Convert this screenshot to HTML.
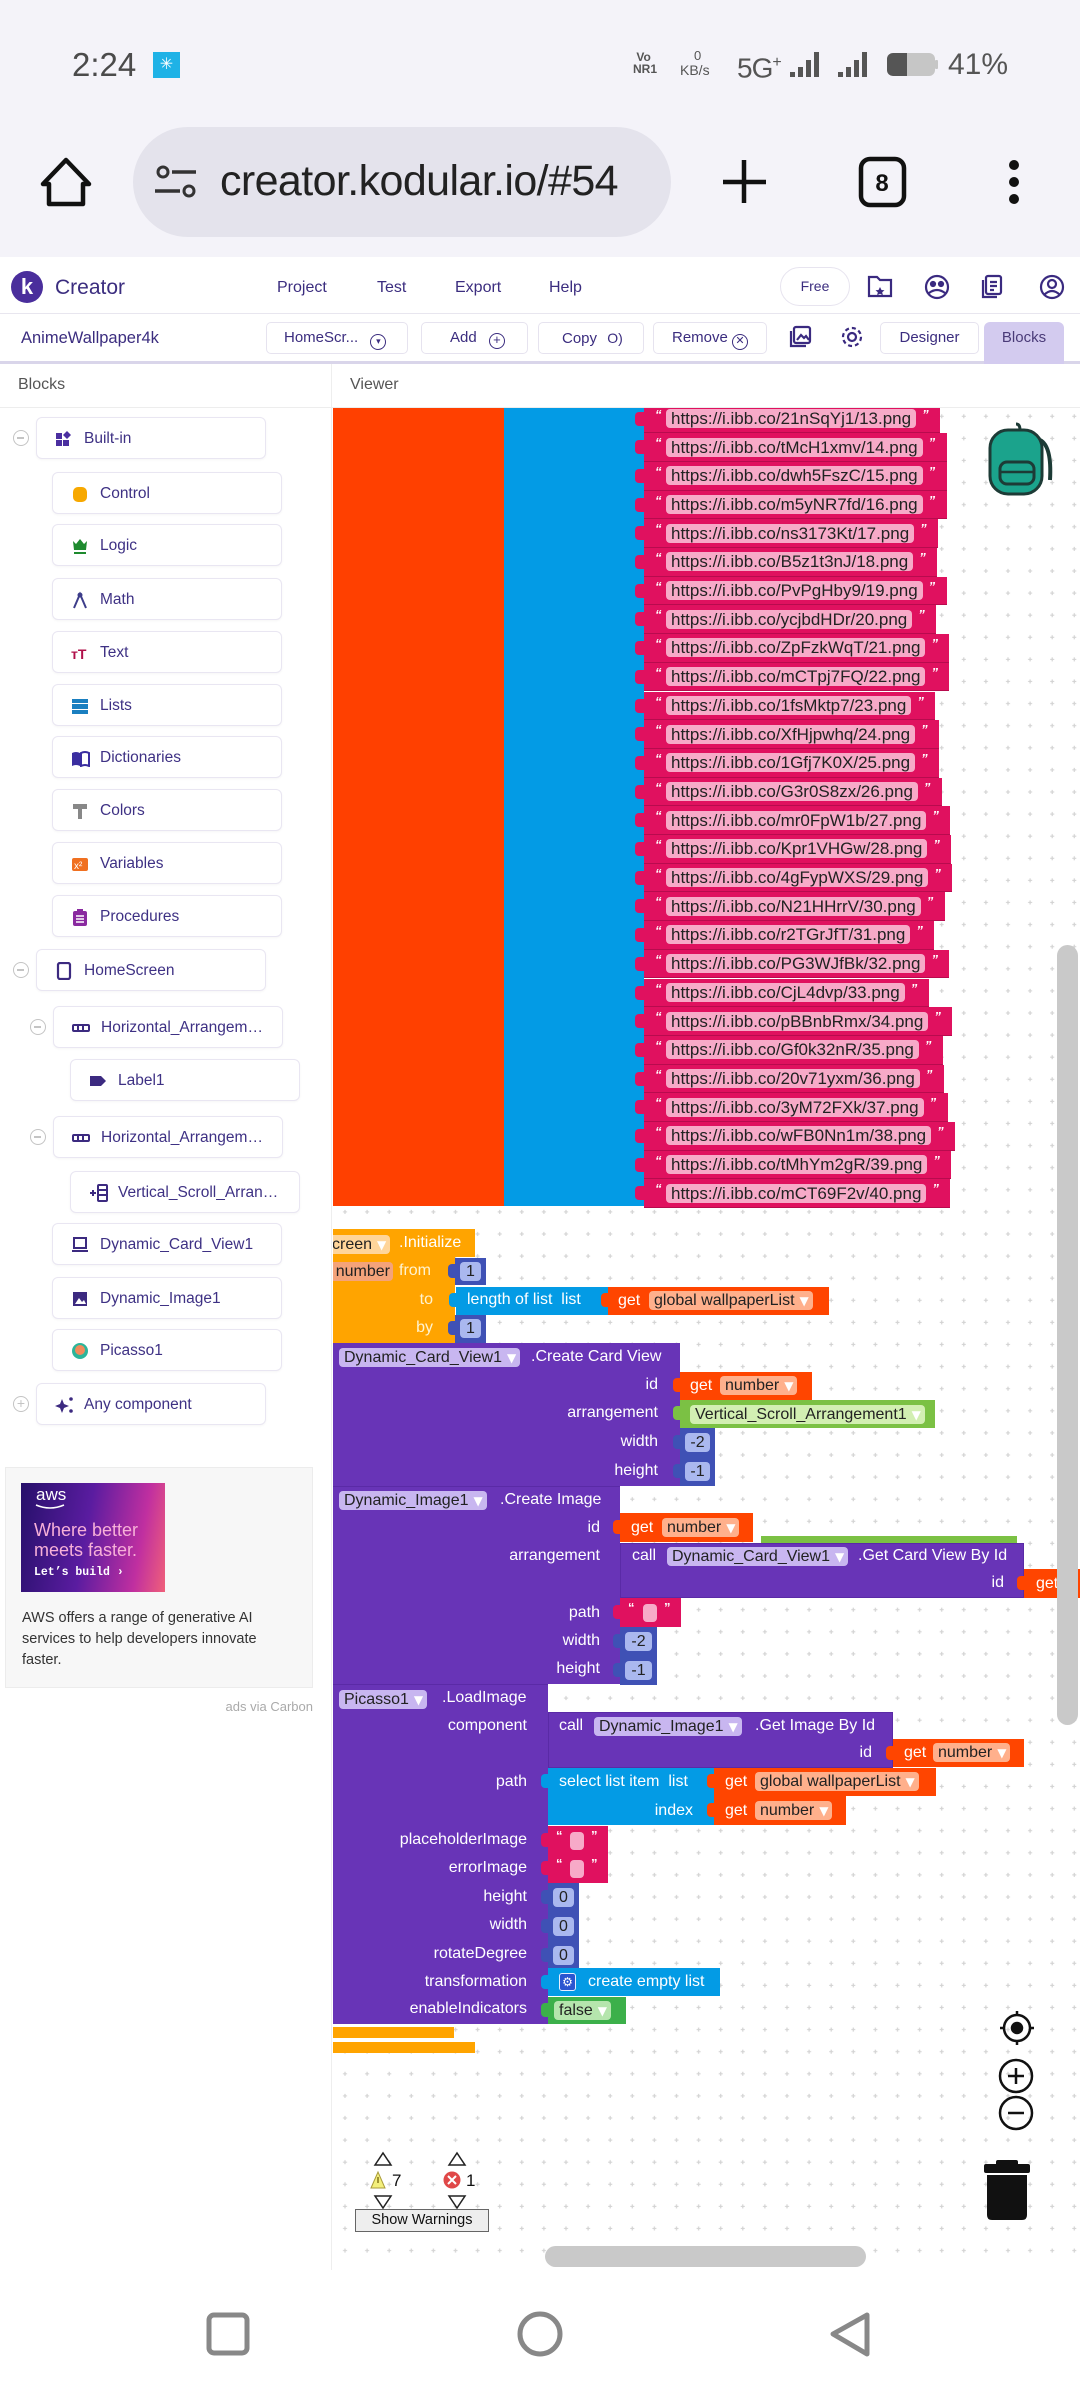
<!DOCTYPE html>
<html><head><meta charset="utf-8">
<style>
*{margin:0;padding:0;box-sizing:border-box}
html,body{width:1080px;height:2392px;overflow:hidden;background:#fff;font-family:"Liberation Sans","DejaVu Sans",sans-serif}
.a{position:absolute}
.top{position:absolute;left:0;top:0;width:1080px;height:257px;background:#f4f3f9}
.k{position:absolute;color:#3b2d7f;white-space:nowrap;line-height:20px}
.btn{position:absolute;top:322px;height:32px;border:1px solid #e6e3ef;border-radius:5px;background:#fff;color:#3b2d7f;font-size:15px;line-height:30px;white-space:nowrap}
.lb{position:absolute;height:42px;width:230px;border:1px solid #e9e6f2;border-radius:6px;background:#fff;box-shadow:0 1px 2px rgba(0,0,0,.04)}
.lb span{position:absolute;left:47px;top:11px;font-size:15.5px;color:#3e3184;white-space:nowrap;line-height:20px}
.lb svg{position:absolute;left:18px;top:12px}
.mc{position:absolute;width:16px;height:16px;border:1.5px solid #c4c4c4;border-radius:50%}
.mc:after{content:"";position:absolute;left:3px;top:6px;width:7px;height:1.5px;background:#c4c4c4}
#cv{position:absolute;left:0;top:0;width:1080px;height:2270px;clip-path:inset(408px 0 0 333px)}
.pr{position:absolute;left:644px;height:28.7px;background:#e0115f;border-bottom:1.5px solid #b80b4e;padding-left:22px;padding-right:10px;display:flex;align-items:center;font-size:17px;white-space:nowrap}
.pr:before{content:"";position:absolute;left:-9px;top:7px;width:9px;height:14px;background:#e0115f;border-radius:4px 0 0 4px}
.pr .l{background:#f7aac8;color:#222;border-radius:4px;padding:0 5px;height:19px;line-height:19px}
.pr .q1{position:absolute;left:11px;top:2px;color:#fff;font-size:13px;font-weight:bold}
.pr .q2{color:#fff;font-size:13px;font-weight:bold;margin-left:6px;width:8px;align-self:flex-start;margin-top:2px}
.t{position:absolute;color:#fff;font-size:16px;line-height:18px;white-space:nowrap}
.d{position:absolute;height:19px;line-height:19px;border-radius:4px;color:#222;font-size:16px;padding:0 4px 0 5px;white-space:nowrap}
.d b{color:#fff;font-size:12px;font-weight:normal;margin-left:5px;font-family:"DejaVu Sans",sans-serif}
.P{background:#6834b7}.O{background:#ffa400}.R{background:#ff4500}.M{background:#3f51b5}.C{background:#039be5}.G{background:#7bc144}.LG{background:#3cb04a}.K{background:#e0115f}
.lp{background:#c8b6f0}.lr{background:#ffb08c}.lm{background:#aab8ef}.lg{background:#d2efb2}.lk{background:#f7aac8}
.tab{position:absolute;width:8px;height:14px;border-radius:4px 0 0 4px}
</style></head><body>

<!-- status + browser -->
<div class="top"></div>
<div class="a" style="left:72px;top:45px;font-size:33px;color:#4b4b4b;line-height:40px">2:24</div>
<div class="a" style="left:153px;top:52px;width:27px;height:26px;background:#1fb2e6;color:#fff;font-size:16px;text-align:center;line-height:26px">✳</div>
<div class="a" style="left:633px;top:51px;font-size:12px;font-weight:bold;color:#555;line-height:12px">&nbsp;Vo<br>NR1</div>
<div class="a" style="left:694px;top:49px;font-size:13px;color:#555;line-height:14px">0</div>
<div class="a" style="left:680px;top:63px;font-size:14px;color:#555;line-height:15px">KB/s</div>
<div class="a" style="left:737px;top:46px;font-size:28px;color:#555;line-height:34px;letter-spacing:-1px">5G<sup style="font-size:16px">+</sup></div>
<svg class="a" style="left:0;top:0" width="1080" height="257">
 <g fill="#555">
  <rect x="790" y="72" width="5" height="5"/><rect x="798" y="67" width="5" height="10"/><rect x="806" y="60" width="5" height="17"/><rect x="814" y="52" width="5" height="25"/>
  <rect x="838" y="72" width="5" height="5"/><rect x="846" y="67" width="5" height="10"/><rect x="854" y="60" width="5" height="17"/><rect x="862" y="52" width="5" height="25"/>
 </g>
 <rect x="887" y="53" width="48" height="23" rx="6" fill="#c6c6c6"/>
 <path d="M893 53 H907 V76 H893 A6 6 0 0 1 887 70 V59 A6 6 0 0 1 893 53Z" fill="#555"/>
 <rect x="935" y="60" width="3" height="9" rx="1" fill="#c6c6c6"/>
 <path d="M66 160 L43 184 L49 184 L49 204 L83 204 L83 184 L89 184 Z" fill="none" stroke="#111" stroke-width="4.5" stroke-linejoin="round"/>
 <rect x="133" y="127" width="538" height="110" rx="55" fill="#e4e3ec"/>
 <circle cx="163" cy="172" r="5" fill="none" stroke="#333" stroke-width="3"/><line x1="172" y1="172" x2="196" y2="172" stroke="#333" stroke-width="3.5"/>
 <line x1="155" y1="191" x2="180" y2="191" stroke="#333" stroke-width="3.5"/><circle cx="189" cy="191" r="5" fill="none" stroke="#333" stroke-width="3"/>
 <line x1="723" y1="182" x2="766" y2="182" stroke="#111" stroke-width="4.5"/><line x1="744" y1="160" x2="744" y2="203" stroke="#111" stroke-width="4.5"/>
 <rect x="861" y="159" width="43" height="46" rx="9" fill="none" stroke="#111" stroke-width="4.5"/>
 <text x="882" y="191" font-size="24" font-weight="bold" text-anchor="middle" fill="#111" font-family="Liberation Sans">8</text>
 <circle cx="1014" cy="165" r="5" fill="#111"/><circle cx="1014" cy="182" r="5" fill="#111"/><circle cx="1014" cy="199" r="5" fill="#111"/>
</svg>
<div class="a" style="left:948px;top:46px;font-size:30px;color:#555;line-height:38px">41%</div>
<div class="a" style="left:220px;top:154px;width:431px;overflow:hidden;font-size:43px;color:#222;line-height:54px;white-space:nowrap;letter-spacing:-0.6px">creator.kodular.io/#54</div>

<!-- kodular header -->
<div class="a" style="left:0;top:257px;width:1080px;height:150px;background:#fff"></div>
<div class="a" style="left:0;top:313px;width:1080px;height:1px;background:#e8e6ef"></div>
<div class="a" style="left:0;top:361px;width:1080px;height:3px;background:#d9d5ea"></div>
<div class="a" style="left:0;top:407px;width:1080px;height:1px;background:#ededed"></div>
<div class="a" style="left:331px;top:364px;width:1px;height:1906px;background:#eeeeee"></div>
<div class="a" style="left:11px;top:271px;width:32px;height:32px;border-radius:50%;background:#4a2e9c;color:#fff;font-weight:bold;font-size:22px;text-align:center;line-height:31px">k</div>
<div class="k" style="left:55px;top:276px;font-size:21px;line-height:24px">Creator</div>
<div class="k" style="left:277px;top:278px;font-size:16px">Project</div>
<div class="k" style="left:377px;top:278px;font-size:16px">Test</div>
<div class="k" style="left:455px;top:278px;font-size:16px">Export</div>
<div class="k" style="left:549px;top:278px;font-size:16px">Help</div>
<div class="a" style="left:780px;top:267px;width:70px;height:39px;border:1px solid #e7e4ef;border-radius:20px;text-align:center;line-height:37px;font-size:14px;color:#3b2d7f">Free</div>
<svg class="a" style="left:0;top:260px" width="1080" height="100" fill="none" stroke="#3a2a80" stroke-width="2.2">
 <path d="M869 17 h8 l3 3 h11 v16 h-22z"/><path d="M880 27 l1.5 3 3 .3 -2.3 2 .7 3 -2.9-1.6 -2.9 1.6 .7-3 -2.3-2 3-.3z" fill="#3a2a80" stroke="none"/>
 <circle cx="937" cy="27" r="11"/><circle cx="933" cy="24" r="2" fill="#3a2a80"/><circle cx="941" cy="24" r="2" fill="#3a2a80"/><path d="M929 33 q8 -6 16 0"/>
 <rect x="986" y="16" width="15" height="18" rx="2"/><path d="M983 20 v17 h14"/><path d="M990 22 h7 M990 26 h7 M990 30 h4"/>
 <circle cx="1052" cy="27" r="11"/><circle cx="1052" cy="24" r="4"/><path d="M1044 35 q8 -8 16 0"/>
 <rect x="794" y="67" width="16" height="16" rx="2"/><path d="M791 71 v15 h15"/><path d="M797 80 l4-5 3 3 2-2 3 4"/>
 <circle cx="852" cy="77" r="4"/><circle cx="852" cy="77" r="9" stroke-dasharray="4 3"/>
</svg>
<div class="k" style="left:21px;top:328px;font-size:16.5px">AnimeWallpaper4k</div>
<div class="btn" style="left:266px;width:142px;padding-left:17px">HomeScr... <span style="display:inline-block;width:16px;height:16px;border:1.5px solid #3b2d7f;border-radius:50%;font-size:9px;line-height:13px;text-align:center;margin-left:8px;vertical-align:-2px">▾</span></div>
<div class="btn" style="left:421px;width:107px;padding-left:28px">Add <span style="display:inline-block;width:16px;height:16px;border:1.5px solid #3b2d7f;border-radius:50%;font-size:13px;line-height:12px;text-align:center;margin-left:8px;vertical-align:-2px">+</span></div>
<div class="btn" style="left:538px;width:106px;padding-left:23px">Copy <span style="margin-left:6px;font-size:14px">O)</span></div>
<div class="btn" style="left:653px;width:114px;padding-left:18px">Remove <span style="display:inline-block;width:16px;height:16px;border:1.5px solid #3b2d7f;border-radius:50%;font-size:11px;line-height:13px;text-align:center;vertical-align:-2px">✕</span></div>
<div class="btn" style="left:880px;width:99px;text-align:center">Designer</div>
<div class="a" style="left:984px;top:322px;width:80px;height:42px;background:#d3cbef;border-radius:6px 6px 0 0;text-align:center;font-size:15px;line-height:32px;color:#4a3b78">Blocks</div>
<div class="a" style="left:18px;top:376px;font-size:16px;color:#555">Blocks</div>
<div class="a" style="left:350px;top:376px;font-size:16px;color:#555">Viewer</div>

<!-- left panel -->
<div class="mc" style="left:13px;top:430px"></div>
<div class="lb" style="left:36px;top:417px"><svg width="18" height="18"><rect x="1" y="3" width="6" height="6" fill="#4b2fa0"/><rect x="1" y="10" width="6" height="6" fill="#4b2fa0"/><rect x="8" y="10" width="6" height="6" fill="#4b2fa0"/><path d="M12 1 l4 4 -4 4 -4-4z" fill="#4b2fa0"/></svg><span>Built-in</span></div>
<div class="lb" style="left:52px;top:472px"><svg width="18" height="18"><rect x="2" y="2" width="14" height="15" rx="5" fill="#f7a800"/></svg><span>Control</span></div>
<div class="lb" style="left:52px;top:524px"><svg width="18" height="18"><path d="M2 4 l3 3 4-5 4 5 3-3 -1 9 H3z" fill="#1e8a2e"/><rect x="3" y="15" width="12" height="2" fill="#1e8a2e"/></svg><span>Logic</span></div>
<div class="lb" style="left:52px;top:578px"><svg width="18" height="18" fill="none" stroke="#3d3d8a" stroke-width="2"><path d="M3 17 L9 3 L15 17"/><circle cx="9" cy="4" r="1.5"/></svg><span>Math</span></div>
<div class="lb" style="left:52px;top:631px"><svg width="18" height="18"><text x="0" y="15" font-size="14" font-weight="bold" fill="#b0104a" font-family="Liberation Sans">тT</text></svg><span>Text</span></div>
<div class="lb" style="left:52px;top:684px"><svg width="18" height="18"><rect x="1" y="2" width="16" height="4" fill="#1a7fc0"/><rect x="1" y="7" width="16" height="5" fill="#1a7fc0"/><rect x="1" y="13" width="16" height="4" fill="#1a7fc0"/></svg><span>Lists</span></div>
<div class="lb" style="left:52px;top:736px"><svg width="20" height="18"><path d="M1 4 q4-2 8 0 v13 q-4-2 -8 0z" fill="#3a2ea0"/><path d="M10 4 q4-2 8 0 v13 q-4-2 -8 0z" fill="none" stroke="#3a2ea0" stroke-width="2"/></svg><span>Dictionaries</span></div>
<div class="lb" style="left:52px;top:789px"><svg width="18" height="18"><rect x="2" y="2" width="14" height="5" fill="#888"/><rect x="7" y="7" width="4" height="10" fill="#888"/></svg><span>Colors</span></div>
<div class="lb" style="left:52px;top:842px"><svg width="18" height="18"><rect x="1" y="3" width="16" height="13" rx="2" fill="#f07020"/><text x="3" y="14" font-size="10" fill="#fff" font-family="Liberation Sans">x²</text></svg><span>Variables</span></div>
<div class="lb" style="left:52px;top:895px"><svg width="18" height="18"><rect x="2" y="3" width="14" height="15" rx="2" fill="#8a2aa0"/><rect x="6" y="1" width="6" height="4" fill="#8a2aa0"/><path d="M5 8 h8 M5 11 h8 M5 14 h8" stroke="#fff" stroke-width="1.5"/></svg><span>Procedures</span></div>
<div class="mc" style="left:13px;top:962px"></div>
<div class="lb" style="left:36px;top:949px"><svg width="18" height="18"><rect x="3" y="1" width="12" height="16" rx="2" fill="none" stroke="#3c2a80" stroke-width="2.2"/></svg><span>HomeScreen</span></div>
<div class="mc" style="left:30px;top:1019px"></div>
<div class="lb" style="left:53px;top:1006px"><svg width="18" height="18"><rect x="1" y="6" width="16" height="6" rx="1" fill="none" stroke="#3c2a80" stroke-width="2"/><path d="M6 6 v6 M11 6 v6" stroke="#3c2a80" stroke-width="2"/></svg><span>Horizontal_Arrangem…</span></div>
<div class="lb" style="left:70px;top:1059px"><svg width="18" height="18"><path d="M1 4 h11 l5 5 -5 5 h-11z" fill="#3c2a80"/></svg><span>Label1</span></div>
<div class="mc" style="left:30px;top:1129px"></div>
<div class="lb" style="left:53px;top:1116px"><svg width="18" height="18"><rect x="1" y="6" width="16" height="6" rx="1" fill="none" stroke="#3c2a80" stroke-width="2"/><path d="M6 6 v6 M11 6 v6" stroke="#3c2a80" stroke-width="2"/></svg><span>Horizontal_Arrangem…</span></div>
<div class="lb" style="left:70px;top:1171px"><svg width="20" height="18" fill="none" stroke="#3c2a80" stroke-width="2"><path d="M1 9 h6 M4 6 v6"/><rect x="9" y="1" width="9" height="16" rx="1"/><path d="M9 6 h9 M9 11 h9"/></svg><span>Vertical_Scroll_Arran…</span></div>
<div class="lb" style="left:52px;top:1223px"><svg width="18" height="18" fill="none" stroke="#3c2a80" stroke-width="2"><rect x="3" y="2" width="12" height="10"/><path d="M1 15 h16"/></svg><span>Dynamic_Card_View1</span></div>
<div class="lb" style="left:52px;top:1277px"><svg width="18" height="18"><rect x="2" y="2" width="14" height="14" fill="#3c2a80"/><path d="M4 14 l4-6 3 4 2-2 2 4z" fill="#fff"/></svg><span>Dynamic_Image1</span></div>
<div class="lb" style="left:52px;top:1329px"><svg width="18" height="18"><circle cx="9" cy="9" r="8" fill="#2cb59a"/><circle cx="9" cy="8" r="5" fill="#f28a5b"/></svg><span>Picasso1</span></div>
<div class="a" style="left:13px;top:1396px;width:16px;height:16px;border:1.5px solid #c4c4c4;border-radius:50%;color:#c4c4c4;font-size:14px;line-height:12px;text-align:center">+</div>
<div class="lb" style="left:36px;top:1383px"><svg width="20" height="18"><path d="M7 3 l2 5 5 2 -5 2 -2 5 -2-5 -5-2 5-2z" fill="#3c2a80"/><circle cx="16" cy="3" r="1.8" fill="#3c2a80"/><circle cx="16" cy="15" r="1.8" fill="#3c2a80"/></svg><span>Any component</span></div>

<div class="a" style="left:5px;top:1467px;width:308px;height:221px;background:#f7f7f7;border:1px solid #ececec"></div>
<div class="a" style="left:21px;top:1483px;width:144px;height:109px;background:linear-gradient(100deg,#26106a 0%,#5a1ca0 45%,#c02fa0 80%,#f0607a 100%)"></div>
<div class="a" style="left:36px;top:1485px;font-size:17px;color:#fff;line-height:20px">aws</div>
<svg class="a" style="left:35px;top:1503px" width="32" height="8"><path d="M1 2 q14 6 28 0" fill="none" stroke="#fff" stroke-width="1.5"/></svg>
<div class="a" style="left:34px;top:1520px;font-size:18px;color:#f7b0d8;line-height:20px;white-space:nowrap">Where better<br>meets faster.</div>
<div class="a" style="left:34px;top:1566px;font-size:11.5px;color:#fff;font-weight:bold;font-family:'Liberation Mono',monospace;white-space:nowrap">Let’s build ›</div>
<div class="a" style="left:22px;top:1608px;font-size:14.5px;color:#333;line-height:21px;white-space:nowrap">AWS offers a range of generative AI<br>services to help developers innovate<br>faster.</div>
<div class="a" style="left:213px;top:1699px;width:100px;text-align:right;font-size:13px;color:#aaa;white-space:nowrap">ads via Carbon</div>

<!-- grid -->
<svg class="a" style="left:331px;top:408px" width="749" height="1862">
 <defs><pattern id="g" width="22.1" height="22.1" patternUnits="userSpaceOnUse"><path d="M12 8.3 h4 M14 6.3 v4" stroke="#d3d3d3" stroke-width="1.2"/></pattern></defs>
 <rect width="749" height="1862" fill="url(#g)"/>
</svg>

<div id="cv">
 <div class="a" style="left:333px;top:408px;width:171px;height:798px;background:#ff4000"></div>
 <div class="a" style="left:504px;top:408px;width:140px;height:798px;background:#039be5"></div>
 <div class="pr" style="top:404.5px"><i class="q1">“</i><span class="l">https://i.ibb.co/21nSqYj1/13.png</span><i class="q2">”</i></div>
 <div class="pr" style="top:433.2px"><i class="q1">“</i><span class="l">https://i.ibb.co/tMcH1xmv/14.png</span><i class="q2">”</i></div>
 <div class="pr" style="top:461.9px"><i class="q1">“</i><span class="l">https://i.ibb.co/dwh5FszC/15.png</span><i class="q2">”</i></div>
 <div class="pr" style="top:490.6px"><i class="q1">“</i><span class="l">https://i.ibb.co/m5yNR7fd/16.png</span><i class="q2">”</i></div>
 <div class="pr" style="top:519.3px"><i class="q1">“</i><span class="l">https://i.ibb.co/ns3173Kt/17.png</span><i class="q2">”</i></div>
 <div class="pr" style="top:548.0px"><i class="q1">“</i><span class="l">https://i.ibb.co/B5z1t3nJ/18.png</span><i class="q2">”</i></div>
 <div class="pr" style="top:576.7px"><i class="q1">“</i><span class="l">https://i.ibb.co/PvPgHby9/19.png</span><i class="q2">”</i></div>
 <div class="pr" style="top:605.4px"><i class="q1">“</i><span class="l">https://i.ibb.co/ycjbdHDr/20.png</span><i class="q2">”</i></div>
 <div class="pr" style="top:634.1px"><i class="q1">“</i><span class="l">https://i.ibb.co/ZpFzkWqT/21.png</span><i class="q2">”</i></div>
 <div class="pr" style="top:662.8px"><i class="q1">“</i><span class="l">https://i.ibb.co/mCTpj7FQ/22.png</span><i class="q2">”</i></div>
 <div class="pr" style="top:691.5px"><i class="q1">“</i><span class="l">https://i.ibb.co/1fsMktp7/23.png</span><i class="q2">”</i></div>
 <div class="pr" style="top:720.2px"><i class="q1">“</i><span class="l">https://i.ibb.co/XfHjpwhq/24.png</span><i class="q2">”</i></div>
 <div class="pr" style="top:748.9px"><i class="q1">“</i><span class="l">https://i.ibb.co/1Gfj7K0X/25.png</span><i class="q2">”</i></div>
 <div class="pr" style="top:777.6px"><i class="q1">“</i><span class="l">https://i.ibb.co/G3r0S8zx/26.png</span><i class="q2">”</i></div>
 <div class="pr" style="top:806.3px"><i class="q1">“</i><span class="l">https://i.ibb.co/mr0FpW1b/27.png</span><i class="q2">”</i></div>
 <div class="pr" style="top:835.0px"><i class="q1">“</i><span class="l">https://i.ibb.co/Kpr1VHGw/28.png</span><i class="q2">”</i></div>
 <div class="pr" style="top:863.7px"><i class="q1">“</i><span class="l">https://i.ibb.co/4gFypWXS/29.png</span><i class="q2">”</i></div>
 <div class="pr" style="top:892.4px"><i class="q1">“</i><span class="l">https://i.ibb.co/N21HHrrV/30.png</span><i class="q2">”</i></div>
 <div class="pr" style="top:921.1px"><i class="q1">“</i><span class="l">https://i.ibb.co/r2TGrJfT/31.png</span><i class="q2">”</i></div>
 <div class="pr" style="top:949.8px"><i class="q1">“</i><span class="l">https://i.ibb.co/PG3WJfBk/32.png</span><i class="q2">”</i></div>
 <div class="pr" style="top:978.5px"><i class="q1">“</i><span class="l">https://i.ibb.co/CjL4dvp/33.png</span><i class="q2">”</i></div>
 <div class="pr" style="top:1007.2px"><i class="q1">“</i><span class="l">https://i.ibb.co/pBBnbRmx/34.png</span><i class="q2">”</i></div>
 <div class="pr" style="top:1035.9px"><i class="q1">“</i><span class="l">https://i.ibb.co/Gf0k32nR/35.png</span><i class="q2">”</i></div>
 <div class="pr" style="top:1064.6px"><i class="q1">“</i><span class="l">https://i.ibb.co/20v71yxm/36.png</span><i class="q2">”</i></div>
 <div class="pr" style="top:1093.3px"><i class="q1">“</i><span class="l">https://i.ibb.co/3yM72FXk/37.png</span><i class="q2">”</i></div>
 <div class="pr" style="top:1122.0px"><i class="q1">“</i><span class="l">https://i.ibb.co/wFB0Nn1m/38.png</span><i class="q2">”</i></div>
 <div class="pr" style="top:1150.7px"><i class="q1">“</i><span class="l">https://i.ibb.co/tMhYm2gR/39.png</span><i class="q2">”</i></div>
 <div class="pr" style="top:1179.4px"><i class="q1">“</i><span class="l">https://i.ibb.co/mCT69F2v/40.png</span><i class="q2">”</i></div>

 <!-- event + for loop -->
 <div class="a O" style="left:320px;top:1229px;width:155px;height:28px"></div>
 <div class="a O" style="left:320px;top:1257px;width:135px;height:86px"></div>
 <div class="d" style="left:326px;top:1235px;background:#ffd59a;padding-left:6px">creen<b>▼</b></div>
 <div class="t" style="left:399px;top:1234px">.Initialize</div>
 <div class="d" style="left:300px;top:1262px;width:93px;background:#f4a37a;text-align:right;padding-right:3px">number</div>
 <div class="t" style="left:399px;top:1262px;color:#fff3d0">from</div>
 <div class="t" style="right:647px;top:1291px;color:#fff3d0">to</div>
 <div class="t" style="right:647px;top:1319px;color:#fff3d0">by</div>
 <div class="tab M" style="left:448px;top:1264px"></div>
 <div class="a M" style="left:455px;top:1258px;width:31px;height:27px"></div>
 <div class="d lm" style="left:460px;top:1262px;width:21px;padding:0;text-align:center">1</div>
 <div class="tab C" style="left:449px;top:1293px"></div>
 <div class="a C" style="left:456px;top:1287px;width:152px;height:28px"></div>
 <div class="t" style="left:467px;top:1291px">length of list&nbsp; list</div>
 <div class="tab R" style="left:601px;top:1293px"></div>
 <div class="a R" style="left:608px;top:1287px;width:221px;height:28px"></div>
 <div class="t" style="left:618px;top:1292px">get</div>
 <div class="d lr" style="left:649px;top:1291px">global wallpaperList<b>▼</b></div>
 <div class="tab M" style="left:448px;top:1321px"></div>
 <div class="a M" style="left:455px;top:1315px;width:31px;height:28px"></div>
 <div class="d lm" style="left:460px;top:1319px;width:21px;padding:0;text-align:center">1</div>

 <!-- create card view -->
 <div class="a P" style="left:320px;top:1343px;width:360px;height:143px"></div>
 <div class="d lp" style="left:339px;top:1348px">Dynamic_Card_View1<b>▼</b></div>
 <div class="t" style="left:531px;top:1348px">.Create Card View</div>
 <div class="t" style="right:422px;top:1376px">id</div>
 <div class="t" style="right:422px;top:1404px">arrangement</div>
 <div class="t" style="right:422px;top:1433px">width</div>
 <div class="t" style="right:422px;top:1462px">height</div>
 <div class="tab R" style="left:673px;top:1378px"></div>
 <div class="a R" style="left:680px;top:1372px;width:132px;height:28px"></div>
 <div class="t" style="left:690px;top:1377px">get</div>
 <div class="d lr" style="left:720px;top:1376px">number<b>▼</b></div>
 <div class="tab G" style="left:673px;top:1406px"></div>
 <div class="a G" style="left:680px;top:1400px;width:255px;height:28px"></div>
 <div class="d lg" style="left:690px;top:1405px">Vertical_Scroll_Arrangement1<b>▼</b></div>
 <div class="tab M" style="left:673px;top:1435px"></div>
 <div class="a M" style="left:680px;top:1428px;width:35px;height:29px"></div>
 <div class="d lm" style="left:685px;top:1433px;width:25px;padding:0;text-align:center">-2</div>
 <div class="tab M" style="left:673px;top:1464px"></div>
 <div class="a M" style="left:680px;top:1457px;width:35px;height:29px"></div>
 <div class="d lm" style="left:685px;top:1462px;width:25px;padding:0;text-align:center">-1</div>

 <!-- create image -->
 <div class="a P" style="left:320px;top:1486px;width:300px;height:198px;border-top:1px solid #5a2aa6"></div>
 <div class="d lp" style="left:339px;top:1491px">Dynamic_Image1<b>▼</b></div>
 <div class="t" style="left:500px;top:1491px">.Create Image</div>
 <div class="t" style="right:480px;top:1519px">id</div>
 <div class="t" style="right:480px;top:1547px">arrangement</div>
 <div class="t" style="right:480px;top:1604px">path</div>
 <div class="t" style="right:480px;top:1632px">width</div>
 <div class="t" style="right:480px;top:1660px">height</div>
 <div class="tab R" style="left:613px;top:1520px"></div>
 <div class="a R" style="left:620px;top:1513px;width:133px;height:29px"></div>
 <div class="t" style="left:631px;top:1519px">get</div>
 <div class="d lr" style="left:662px;top:1518px">number<b>▼</b></div>
 <div class="a G" style="left:761px;top:1536px;width:256px;height:10px"></div>
 <div class="a P" style="left:620px;top:1543px;width:404px;height:55px;border:1px solid #5a2aa6"></div>
 <div class="t" style="left:632px;top:1547px">call</div>
 <div class="d lp" style="left:667px;top:1547px">Dynamic_Card_View1<b>▼</b></div>
 <div class="t" style="left:858px;top:1547px">.Get Card View By Id</div>
 <div class="t" style="right:76px;top:1574px">id</div>
 <div class="tab R" style="left:1017px;top:1576px"></div>
 <div class="a R" style="left:1024px;top:1569px;width:80px;height:29px"></div>
 <div class="t" style="left:1036px;top:1575px">get</div>
 <div class="tab K" style="left:613px;top:1605px"></div>
 <div class="a K" style="left:620px;top:1598px;width:61px;height:29px"></div>
 <div class="t" style="left:628px;top:1599px;font-size:13px;font-weight:bold">“</div>
 <div class="a lk" style="left:643px;top:1604px;width:14px;height:18px;border-radius:4px"></div>
 <div class="t" style="left:664px;top:1599px;font-size:13px;font-weight:bold">”</div>
 <div class="tab M" style="left:613px;top:1634px"></div>
 <div class="a M" style="left:620px;top:1627px;width:37px;height:29px"></div>
 <div class="d lm" style="left:625px;top:1632px;width:27px;padding:0;text-align:center">-2</div>
 <div class="tab M" style="left:613px;top:1663px"></div>
 <div class="a M" style="left:620px;top:1656px;width:37px;height:29px"></div>
 <div class="d lm" style="left:625px;top:1661px;width:27px;padding:0;text-align:center">-1</div>

 <!-- picasso -->
 <div class="a P" style="left:320px;top:1684px;width:228px;height:340px;border-top:1px solid #5a2aa6"></div>
 <div class="d lp" style="left:339px;top:1690px">Picasso1<b>▼</b></div>
 <div class="t" style="left:442px;top:1689px">.LoadImage</div>
 <div class="t" style="right:553px;top:1717px">component</div>
 <div class="t" style="right:553px;top:1773px">path</div>
 <div class="t" style="right:553px;top:1831px">placeholderImage</div>
 <div class="t" style="right:553px;top:1859px">errorImage</div>
 <div class="t" style="right:553px;top:1888px">height</div>
 <div class="t" style="right:553px;top:1916px">width</div>
 <div class="t" style="right:553px;top:1945px">rotateDegree</div>
 <div class="t" style="right:553px;top:1973px">transformation</div>
 <div class="t" style="right:553px;top:2000px">enableIndicators</div>
 <div class="a P" style="left:548px;top:1712px;width:345px;height:56px;border:1px solid #5a2aa6"></div>
 <div class="t" style="left:559px;top:1717px">call</div>
 <div class="d lp" style="left:594px;top:1717px">Dynamic_Image1<b>▼</b></div>
 <div class="t" style="left:755px;top:1717px">.Get Image By Id</div>
 <div class="t" style="right:208px;top:1744px">id</div>
 <div class="tab R" style="left:886px;top:1746px"></div>
 <div class="a R" style="left:893px;top:1739px;width:131px;height:28px"></div>
 <div class="t" style="left:904px;top:1744px">get</div>
 <div class="d lr" style="left:933px;top:1743px">number<b>▼</b></div>
 <div class="tab C" style="left:541px;top:1774px"></div>
 <div class="a C" style="left:548px;top:1768px;width:166px;height:57px"></div>
 <div class="t" style="left:559px;top:1773px">select list item&nbsp; list</div>
 <div class="t" style="right:387px;top:1802px">index</div>
 <div class="tab R" style="left:707px;top:1774px"></div>
 <div class="a R" style="left:714px;top:1768px;width:222px;height:28px"></div>
 <div class="t" style="left:725px;top:1773px">get</div>
 <div class="d lr" style="left:755px;top:1772px">global wallpaperList<b>▼</b></div>
 <div class="tab R" style="left:707px;top:1803px"></div>
 <div class="a R" style="left:714px;top:1796px;width:132px;height:29px"></div>
 <div class="t" style="left:725px;top:1802px">get</div>
 <div class="d lr" style="left:755px;top:1801px">number<b>▼</b></div>
 <div class="tab K" style="left:541px;top:1833px"></div>
 <div class="a K" style="left:548px;top:1826px;width:60px;height:28px"></div>
 <div class="t" style="left:556px;top:1827px;font-size:13px;font-weight:bold">“</div>
 <div class="a lk" style="left:570px;top:1832px;width:14px;height:18px;border-radius:4px"></div>
 <div class="t" style="left:591px;top:1827px;font-size:13px;font-weight:bold">”</div>
 <div class="tab K" style="left:541px;top:1861px"></div>
 <div class="a K" style="left:548px;top:1854px;width:60px;height:29px"></div>
 <div class="t" style="left:556px;top:1855px;font-size:13px;font-weight:bold">“</div>
 <div class="a lk" style="left:570px;top:1860px;width:14px;height:18px;border-radius:4px"></div>
 <div class="t" style="left:591px;top:1855px;font-size:13px;font-weight:bold">”</div>
 <div class="tab M" style="left:541px;top:1890px"></div>
 <div class="a M" style="left:548px;top:1883px;width:31px;height:29px"></div>
 <div class="d lm" style="left:553px;top:1888px;width:21px;padding:0;text-align:center">0</div>
 <div class="tab M" style="left:541px;top:1919px"></div>
 <div class="a M" style="left:548px;top:1912px;width:31px;height:29px"></div>
 <div class="d lm" style="left:553px;top:1917px;width:21px;padding:0;text-align:center">0</div>
 <div class="tab M" style="left:541px;top:1948px"></div>
 <div class="a M" style="left:548px;top:1941px;width:31px;height:29px"></div>
 <div class="d lm" style="left:553px;top:1946px;width:21px;padding:0;text-align:center">0</div>
 <div class="tab C" style="left:541px;top:1975px"></div>
 <div class="a C" style="left:548px;top:1968px;width:172px;height:28px"></div>
 <div class="a" style="left:559px;top:1973px;width:17px;height:18px;background:#2a55d0;border:1px solid #e8eeff;border-radius:3px;color:#fff;font-size:12px;line-height:16px;text-align:center;font-family:'DejaVu Sans',sans-serif">⚙</div>
 <div class="t" style="left:588px;top:1973px">create empty list</div>
 <div class="tab LG" style="left:541px;top:2003px"></div>
 <div class="a LG" style="left:548px;top:1997px;width:78px;height:27px"></div>
 <div class="d" style="left:554px;top:2001px;background:#b5e5ad">false<b>▼</b></div>
 <div class="a O" style="left:320px;top:2027px;width:134px;height:11px"></div>
 <div class="a O" style="left:320px;top:2042px;width:155px;height:11px"></div>
</div>

<!-- backpack -->
<svg class="a" style="left:980px;top:420px" width="80" height="80">
 <path d="M36 4 q4 0 4 6" fill="none" stroke="#1d3b36" stroke-width="3"/>
 <rect x="10" y="10" width="52" height="64" rx="18" fill="#1ba38c" stroke="#1d3b36" stroke-width="3"/>
 <path d="M60 20 q12 6 10 40" fill="none" stroke="#1d3b36" stroke-width="4"/>
 <rect x="20" y="42" width="34" height="22" rx="7" fill="#1ba38c" stroke="#1d3b36" stroke-width="3"/>
 <path d="M20 52 h34" stroke="#1d3b36" stroke-width="2.5"/>
</svg>

<!-- controls -->
<svg class="a" style="left:960px;top:2000px" width="100" height="230" fill="none" stroke="#111" stroke-width="2.5">
 <circle cx="57" cy="28" r="13"/><circle cx="57" cy="28" r="5" fill="#111"/>
 <path d="M57 11 v5 M57 40 v5 M40 28 h5 M69 28 h5"/>
 <circle cx="56" cy="76" r="16"/><path d="M48 76 h16 M56 68 v16"/>
 <circle cx="56" cy="113" r="16"/><path d="M48 113 h16"/>
 <rect x="36" y="160" width="22" height="7" rx="2" fill="#111" stroke="none"/>
 <rect x="24" y="164" width="46" height="9" rx="2" fill="#111" stroke="none"/>
 <path d="M27 175 h40 v40 q0 5 -5 5 h-30 q-5 0 -5 -5z" fill="#111" stroke="none"/>
</svg>

<!-- warnings -->
<svg class="a" style="left:360px;top:2145px" width="130" height="70">
 <path d="M15 20 l8-12 8 12z M89 20 l8-12 8 12z M15 51 h16 l-8 12z M89 51 h16 l-8 12z" fill="#fff" stroke="#222" stroke-width="1.5"/>
 <path d="M11 43 l7-16 7 16z" fill="#f3ef7c" stroke="#a99b3a" stroke-width="1"/>
 <path d="M18 32 v6" stroke="#8a7a20" stroke-width="1.6"/>
 <circle cx="92" cy="35" r="8.5" fill="#e04848"/>
 <path d="M88 31 l8 8 M96 31 l-8 8" stroke="#fff" stroke-width="2"/>
</svg>
<div class="a" style="left:392px;top:2171px;font-size:17px;line-height:20px;color:#111">7</div>
<div class="a" style="left:466px;top:2171px;font-size:17px;line-height:20px;color:#111">1</div>
<div class="a" style="left:355px;top:2209px;width:134px;height:23px;border:1.5px solid #666;background:#eee;text-align:center;font-size:14.5px;line-height:20px;color:#111">Show Warnings</div>

<!-- scrollbars -->
<div class="a" style="left:1057px;top:945px;width:21px;height:780px;border-radius:11px;background:#c9c9c9"></div>
<div class="a" style="left:545px;top:2246px;width:321px;height:21px;border-radius:11px;background:#c9c9c9"></div>

<!-- nav bar -->
<svg class="a" style="left:0;top:2280px" width="1080" height="112" fill="none" stroke="#888" stroke-width="5" stroke-linejoin="round">
 <rect x="209" y="35" width="38" height="38" rx="5"/>
 <circle cx="540" cy="54" r="20"/>
 <path d="M833 54 L867 35 L867 74 Z"/>
</svg>
</body></html>
